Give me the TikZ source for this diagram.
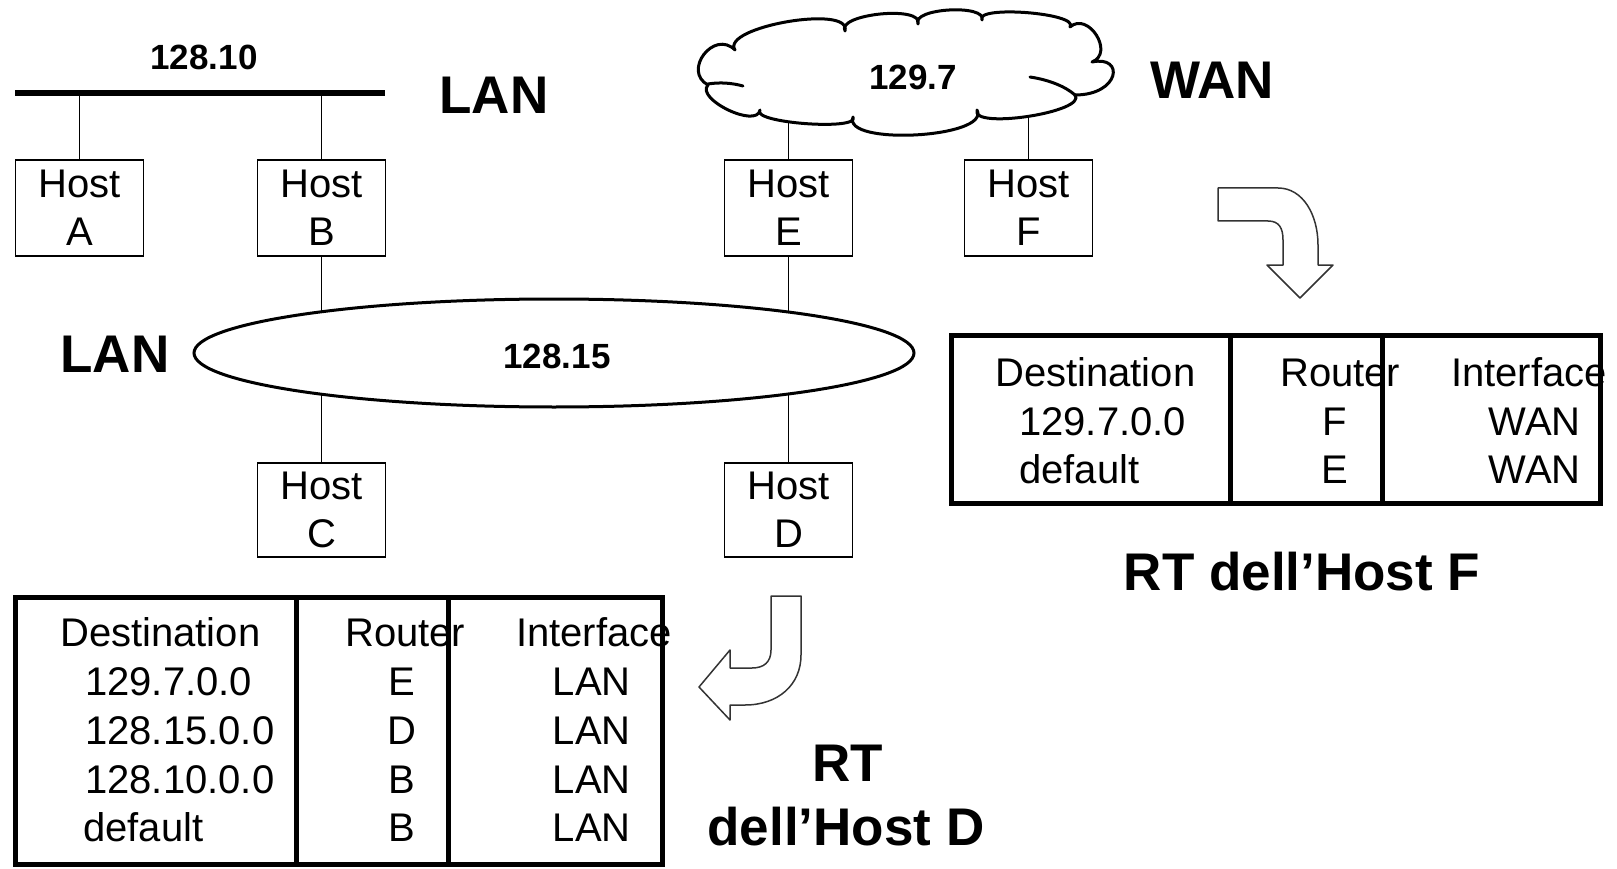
\documentclass[tikz,border=0pt]{standalone}
\usepackage{fontspec}
\setmainfont{Liberation Sans}
\usetikzlibrary{shapes.geometric}
\tikzset{
 host/.style={draw, line width=1.5pt, minimum width=128pt, minimum height=96pt, inner sep=0pt, align=center, font=\fontsize{40}{48}\selectfont},
 net/.style={font=\bfseries\fontsize{35}{42}\selectfont, inner sep=0pt},
 big/.style={font=\bfseries\fontsize{53}{64}\selectfont, inner sep=0pt},
 cell/.style={font=\fontsize{40}{48}\selectfont, inner sep=0pt},
 wire/.style={line width=1.5pt},
 cloudline/.style={line width=3pt, line join=round, line cap=round},
 tableframe/.style={draw, line width=5pt, inner sep=0pt},
 sep/.style={line width=5pt},
 bentarrow/.style={line width=1.5pt, draw=black!80, fill=white, line join=round}
}
\begin{document}
\begin{tikzpicture}[x=1pt,y=-1pt]
\useasboundingbox (0,0) rectangle (1617,869);

% top LAN bus
\coordinate (busL) at (15,93);
\coordinate (busR) at (385,93);
\draw[line width=6pt] (busL) -- (busR);
\node[net] (n12810) at (204,57) {128.10};
\node[big] (lanTop) at (494,95) {LAN};

\node[host] (A) at (79.5,208) {Host\\A};
\node[host] (B) at (321.5,208) {Host\\B};
\node[host] (E) at (788.5,208) {Host\\E};
\node[host] (F) at (1028.5,208) {Host\\F};
\node[host, minimum height=94pt] (C) at (321.5,510) {Host\\C};
\node[host, minimum height=94pt] (D) at (788.5,510) {Host\\D};

\draw[wire] (A.north) -- (A.north |- busL);
\draw[wire] (B.north) -- (B.north |- busL);

% WAN cloud
\coordinate (wanc) at (909,70);
\draw[wire] (E.north) -- (E.north |- wanc);
\draw[wire] (F.north) -- (F.north |- wanc);
\draw[cloudline, fill=white]
  (708,85) .. controls (682,71) and (714,29) .. (735,50)
  .. controls (720,27) and (852,4) .. (845,31)
  .. controls (836,14) and (924,5) .. (918,24)
  .. controls (911,8) and (987,4) .. (982,20)
  .. controls (974,5) and (1080,13) .. (1070,27)
  .. controls (1088,11) and (1115,53) .. (1092,62)
  .. controls (1125,55) and (1120,95) .. (1075,95)
  .. controls (1088,112) and (970,130) .. (977,110)
  .. controls (991,138) and (842,146) .. (853,117)
  .. controls (861,131) and (750,123) .. (760,110)
  .. controls (757,129) and (695,99) .. (708,85) -- cycle;
\draw[cloudline] (708,84) .. controls (720,82) and (732,83) .. (743,86);
\draw[cloudline] (1030,77) .. controls (1050,80) and (1066,87) .. (1075,95);
\node[net] (n1297) at (913,77) {129.7};
\node[big] (wanlbl) at (1212,80) {WAN};

% LAN 128.15
\draw[wire] (B.south) -- (C.north);
\draw[wire] (E.south) -- (D.north);
\node[ellipse, draw, line width=3pt, fill=white, minimum width=720pt, minimum height=108pt, inner sep=0pt] (lan2) at (554,353) {};
\node[net] (n12815) at (557,356) {128.15};
\node[big] (lanLeft) at (115,354) {LAN};

% bent arrows
\draw[bentarrow] (1218,188) -- (1278,188) .. controls (1303,188) and (1318,215) .. (1318,245) -- (1318,265) -- (1333,265) -- (1300,298) -- (1267,265) -- (1283,265) -- (1283,240) .. controls (1283,228) and (1279,221) .. (1268,221) -- (1218,221) -- cycle;
\draw[bentarrow] (771,596) -- (801,596) -- (801,655) .. controls (801,685) and (778,705) .. (745,705) -- (730,705) -- (730,720) -- (699,687) -- (730,650) -- (730,668) -- (752,668) .. controls (764,668) and (771,662) .. (771,650) -- cycle;

% routing table of host F
\node[tableframe, minimum width=649pt, minimum height=168pt] (rtF) at (1275.5,419) {};
\draw[sep] (1230,335) -- (1230,503);
\draw[sep] (1382,335) -- (1382,503);
\node[cell, anchor=base west] (fDest) at (995,386) {Destination};
\node[cell, anchor=base west] (f1) at (1019,435) {129.7.0.0};
\node[cell, anchor=base west] (f2) at (1019,483) {default};
\node[cell, anchor=base west] (fRouter) at (1280,386) {Router};
\node[cell, anchor=base] (fR1) at (1335,435) {F};
\node[cell, anchor=base] (fR2) at (1335,483) {E};
\node[cell, anchor=base east] (fIf) at (1607,386) {Interface};
\node[cell, anchor=base east] (fI1) at (1581,435) {WAN};
\node[cell, anchor=base east] (fI2) at (1581,483) {WAN};
\node[big] (rtFlbl) at (1302,572) {RT dell’Host F};

% routing table of host D
\node[tableframe, minimum width=647pt, minimum height=267pt] (rtD) at (338.5,730.5) {};
\draw[sep] (296,597) -- (296,864);
\draw[sep] (448,597) -- (448,864);
\node[cell, anchor=base west] (dDest) at (60,646) {Destination};
\node[cell, anchor=base west] (d1) at (85,695) {129.7.0.0};
\node[cell, anchor=base west] (d2) at (85,744) {128.15.0.0};
\node[cell, anchor=base west] (d3) at (85,793) {128.10.0.0};
\node[cell, anchor=base west] (d4) at (83,841) {default};
\node[cell, anchor=base west] (dRouter) at (345,646) {Router};
\node[cell, anchor=base] (dR1) at (402,695) {E};
\node[cell, anchor=base] (dR2) at (402,744) {D};
\node[cell, anchor=base] (dR3) at (402,793) {B};
\node[cell, anchor=base] (dR4) at (402,841) {B};
\node[cell, anchor=base east] (dIf) at (672,646) {Interface};
\node[cell, anchor=base east] (dI1) at (631,695) {LAN};
\node[cell, anchor=base east] (dI2) at (631,744) {LAN};
\node[cell, anchor=base east] (dI3) at (631,793) {LAN};
\node[cell, anchor=base east] (dI4) at (631,841) {LAN};
\node[big] (rtD1) at (848,763) {RT};
\node[big] (rtD2) at (846,827) {dell’Host D};
\end{tikzpicture}
\end{document}
